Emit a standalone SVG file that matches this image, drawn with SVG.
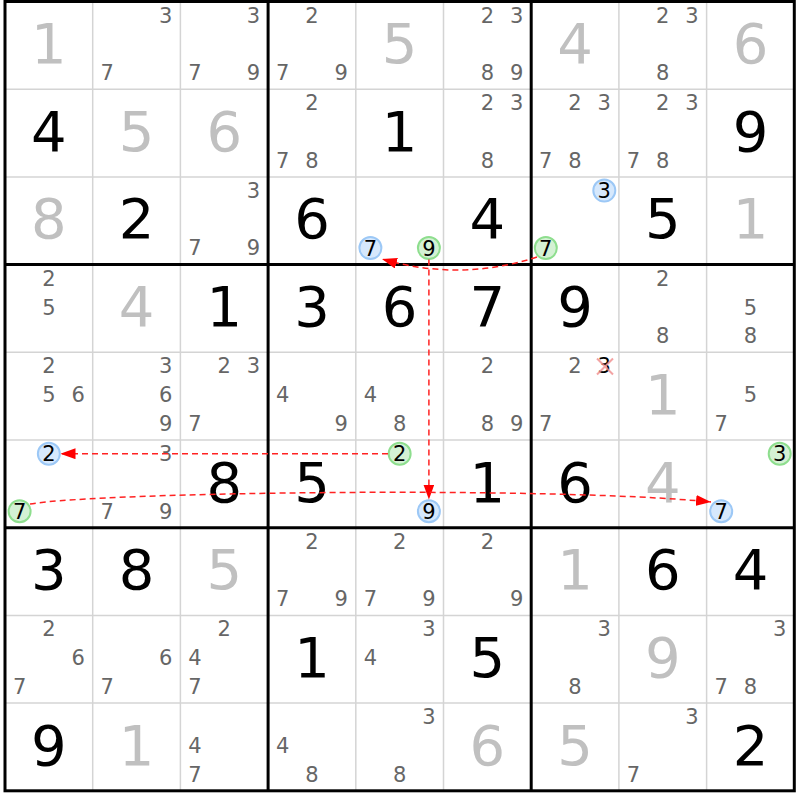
<svg xmlns="http://www.w3.org/2000/svg" width="800" height="800" viewBox="0 0 800 800">
<style>
text{font-family:"DejaVu Sans",Verdana,sans-serif;text-anchor:middle}
.b{font-size:56px;fill:#000}
.s{font-size:56px;fill:#c0c0c0}
.c{font-size:21px;fill:#666}
.k{font-size:21px;fill:#000}
.thin{stroke:#d4d4d4;stroke-width:1.5}
.thick{stroke:#000;stroke-width:3}
.cb{fill:#d6e8fc;stroke:#9cc8f6;stroke-width:2}
.cg{fill:#d4f1d4;stroke:#8ede8e;stroke-width:2}
.ar{fill:none;stroke:#f22;stroke-width:1.5;stroke-dasharray:6,4;marker-end:url(#ah)}
</style>
<defs>
<marker id="ah" markerUnits="userSpaceOnUse" markerWidth="15" markerHeight="11" refX="15" refY="5.5" orient="auto"><path d="M0,0 L15,5.5 L0,11 z" fill="#f00"/></marker>
</defs>
<rect width="800" height="800" fill="#fff"/>
<g id="grid">
<g class="thin">
<line x1="92.7" y1="1.5" x2="92.7" y2="790.8"/><line x1="180.4" y1="1.5" x2="180.4" y2="790.8"/>
<line x1="355.8" y1="1.5" x2="355.8" y2="790.8"/><line x1="443.5" y1="1.5" x2="443.5" y2="790.8"/>
<line x1="618.9" y1="1.5" x2="618.9" y2="790.8"/><line x1="706.6" y1="1.5" x2="706.6" y2="790.8"/>
<line x1="5" y1="89.2" x2="794.3" y2="89.2"/><line x1="5" y1="176.9" x2="794.3" y2="176.9"/>
<line x1="5" y1="352.3" x2="794.3" y2="352.3"/><line x1="5" y1="440" x2="794.3" y2="440"/>
<line x1="5" y1="615.4" x2="794.3" y2="615.4"/><line x1="5" y1="703.1" x2="794.3" y2="703.1"/>
</g>
<g class="thick">
<line x1="268.1" y1="1.5" x2="268.1" y2="790.8"/><line x1="531.2" y1="1.5" x2="531.2" y2="790.8"/>
<line x1="5" y1="264.6" x2="794.3" y2="264.6"/><line x1="5" y1="527.7" x2="794.3" y2="527.7"/>
<rect x="5" y="1.5" width="789.3" height="789.3" fill="none"/>
</g>
</g>

<!-- Row 0 -->
<g id="r0c0"><text class="s" x="48.85" y="63">1</text></g>
<g id="r0c1"><text class="c" x="165.8" y="22.5">3</text><text class="c" x="107.3" y="80">7</text></g>
<g id="r0c2"><text class="c" x="253.5" y="22.5">3</text><text class="c" x="195" y="80">7</text><text class="c" x="253.5" y="80">9</text></g>
<g id="r0c3"><text class="c" x="311.95" y="22.5">2</text><text class="c" x="282.7" y="80">7</text><text class="c" x="341.2" y="80">9</text></g>
<g id="r0c4"><text class="s" x="399.65" y="63">5</text></g>
<g id="r0c5"><text class="c" x="487.35" y="22.5">2</text><text class="c" x="516.6" y="22.5">3</text><text class="c" x="487.35" y="80">8</text><text class="c" x="516.6" y="80">9</text></g>
<g id="r0c6"><text class="s" x="575.05" y="63">4</text></g>
<g id="r0c7"><text class="c" x="662.75" y="22.5">2</text><text class="c" x="692" y="22.5">3</text><text class="c" x="662.75" y="80">8</text></g>
<g id="r0c8"><text class="s" x="750.45" y="63">6</text></g>

<!-- Row 1 -->
<g id="r1c0"><text class="b" x="48.85" y="150.7">4</text></g>
<g id="r1c1"><text class="s" x="136.55" y="150.7">5</text></g>
<g id="r1c2"><text class="s" x="224.25" y="150.7">6</text></g>
<g id="r1c3"><text class="c" x="311.95" y="110.2">2</text><text class="c" x="282.7" y="167.7">7</text><text class="c" x="311.95" y="167.7">8</text></g>
<g id="r1c4"><text class="b" x="399.65" y="150.7">1</text></g>
<g id="r1c5"><text class="c" x="487.35" y="110.2">2</text><text class="c" x="516.6" y="110.2">3</text><text class="c" x="487.35" y="167.7">8</text></g>
<g id="r1c6"><text class="c" x="575.05" y="110.2">2</text><text class="c" x="604.3" y="110.2">3</text><text class="c" x="545.8" y="167.7">7</text><text class="c" x="575.05" y="167.7">8</text></g>
<g id="r1c7"><text class="c" x="662.75" y="110.2">2</text><text class="c" x="692" y="110.2">3</text><text class="c" x="633.5" y="167.7">7</text><text class="c" x="662.75" y="167.7">8</text></g>
<g id="r1c8"><text class="b" x="750.45" y="150.7">9</text></g>

<!-- Row 2 -->
<g id="r2c0"><text class="s" x="48.85" y="238.4">8</text></g>
<g id="r2c1"><text class="b" x="136.55" y="238.4">2</text></g>
<g id="r2c2"><text class="c" x="253.5" y="197.9">3</text><text class="c" x="195" y="255.4">7</text><text class="c" x="253.5" y="255.4">9</text></g>
<g id="r2c3"><text class="b" x="311.95" y="238.4">6</text></g>
<g id="r2c4"><circle class="cb" cx="370.4" cy="248.1" r="11"/><text class="k" x="370.4" y="255.6">7</text><circle class="cg" cx="428.9" cy="248.1" r="11"/><text class="k" x="428.9" y="255.6">9</text></g>
<g id="r2c5"><text class="b" x="487.35" y="238.4">4</text></g>
<g id="r2c6"><circle class="cb" cx="604.3" cy="190.6" r="11"/><text class="k" x="604.3" y="198.1">3</text><circle class="cg" cx="545.8" cy="248.1" r="11"/><text class="k" x="545.8" y="255.6">7</text></g>
<g id="r2c7"><text class="b" x="662.75" y="238.4">5</text></g>
<g id="r2c8"><text class="s" x="750.45" y="238.4">1</text></g>

<!-- Row 3 -->
<g id="r3c0"><text class="c" x="48.85" y="285.6">2</text><text class="c" x="48.85" y="314.6">5</text></g>
<g id="r3c1"><text class="s" x="136.55" y="326.1">4</text></g>
<g id="r3c2"><text class="b" x="224.25" y="326.1">1</text></g>
<g id="r3c3"><text class="b" x="311.95" y="326.1">3</text></g>
<g id="r3c4"><text class="b" x="399.65" y="326.1">6</text></g>
<g id="r3c5"><text class="b" x="487.35" y="326.1">7</text></g>
<g id="r3c6"><text class="b" x="575.05" y="326.1">9</text></g>
<g id="r3c7"><text class="c" x="662.75" y="285.6">2</text><text class="c" x="662.75" y="343.1">8</text></g>
<g id="r3c8"><text class="c" x="750.45" y="314.6">5</text><text class="c" x="750.45" y="343.1">8</text></g>

<!-- Row 4 -->
<g id="r4c0"><text class="c" x="48.85" y="373.3">2</text><text class="c" x="48.85" y="402.3">5</text><text class="c" x="78.1" y="402.3">6</text></g>
<g id="r4c1"><text class="c" x="165.8" y="373.3">3</text><text class="c" x="165.8" y="402.3">6</text><text class="c" x="165.8" y="430.8">9</text></g>
<g id="r4c2"><text class="c" x="224.25" y="373.3">2</text><text class="c" x="253.5" y="373.3">3</text><text class="c" x="195" y="430.8">7</text></g>
<g id="r4c3"><text class="c" x="282.7" y="402.3">4</text><text class="c" x="341.2" y="430.8">9</text></g>
<g id="r4c4"><text class="c" x="370.4" y="402.3">4</text><text class="c" x="399.65" y="430.8">8</text></g>
<g id="r4c5"><text class="c" x="487.35" y="373.3">2</text><text class="c" x="487.35" y="430.8">8</text><text class="c" x="516.6" y="430.8">9</text></g>
<g id="r4c6"><text class="c" x="575.05" y="373.3">2</text><text class="k" x="604.3" y="373.3">3</text><path d="M597,358.5 L613,374.5 M613,358.5 L597,374.5" stroke="#f08c8c" stroke-opacity="0.8" stroke-width="2" fill="none"/><text class="c" x="545.8" y="430.8">7</text></g>
<g id="r4c7"><text class="s" x="662.75" y="413.8">1</text></g>
<g id="r4c8"><text class="c" x="750.45" y="402.3">5</text><text class="c" x="721.2" y="430.8">7</text></g>

<!-- Row 5 -->
<g id="r5c0"><circle class="cb" cx="48.85" cy="453.7" r="11"/><text class="k" x="48.85" y="461.2">2</text><circle class="cg" cx="19.6" cy="511.2" r="11"/><text class="k" x="19.6" y="518.7">7</text></g>
<g id="r5c1"><text class="c" x="165.8" y="461">3</text><text class="c" x="107.3" y="518.5">7</text><text class="c" x="165.8" y="518.5">9</text></g>
<g id="r5c2"><text class="b" x="224.25" y="501.5">8</text></g>
<g id="r5c3"><text class="b" x="311.95" y="501.5">5</text></g>
<g id="r5c4"><circle class="cg" cx="399.65" cy="453.7" r="11"/><text class="k" x="399.65" y="461.2">2</text><circle class="cb" cx="428.9" cy="511.2" r="11"/><text class="k" x="428.9" y="518.7">9</text></g>
<g id="r5c5"><text class="b" x="487.35" y="501.5">1</text></g>
<g id="r5c6"><text class="b" x="575.05" y="501.5">6</text></g>
<g id="r5c7"><text class="s" x="662.75" y="501.5">4</text></g>
<g id="r5c8"><circle class="cg" cx="779.7" cy="453.7" r="11"/><text class="k" x="779.7" y="461.2">3</text><circle class="cb" cx="721.2" cy="511.2" r="11"/><text class="k" x="721.2" y="518.7">7</text></g>

<!-- Row 6 -->
<g id="r6c0"><text class="b" x="48.85" y="589.2">3</text></g>
<g id="r6c1"><text class="b" x="136.55" y="589.2">8</text></g>
<g id="r6c2"><text class="s" x="224.25" y="589.2">5</text></g>
<g id="r6c3"><text class="c" x="311.95" y="548.7">2</text><text class="c" x="282.7" y="606.2">7</text><text class="c" x="341.2" y="606.2">9</text></g>
<g id="r6c4"><text class="c" x="399.65" y="548.7">2</text><text class="c" x="370.4" y="606.2">7</text><text class="c" x="428.9" y="606.2">9</text></g>
<g id="r6c5"><text class="c" x="487.35" y="548.7">2</text><text class="c" x="516.6" y="606.2">9</text></g>
<g id="r6c6"><text class="s" x="575.05" y="589.2">1</text></g>
<g id="r6c7"><text class="b" x="662.75" y="589.2">6</text></g>
<g id="r6c8"><text class="b" x="750.45" y="589.2">4</text></g>

<!-- Row 7 -->
<g id="r7c0"><text class="c" x="48.85" y="636.4">2</text><text class="c" x="78.1" y="665.4">6</text><text class="c" x="19.6" y="693.9">7</text></g>
<g id="r7c1"><text class="c" x="165.8" y="665.4">6</text><text class="c" x="107.3" y="693.9">7</text></g>
<g id="r7c2"><text class="c" x="224.25" y="636.4">2</text><text class="c" x="195" y="665.4">4</text><text class="c" x="195" y="693.9">7</text></g>
<g id="r7c3"><text class="b" x="311.95" y="676.9">1</text></g>
<g id="r7c4"><text class="c" x="428.9" y="636.4">3</text><text class="c" x="370.4" y="665.4">4</text></g>
<g id="r7c5"><text class="b" x="487.35" y="676.9">5</text></g>
<g id="r7c6"><text class="c" x="604.3" y="636.4">3</text><text class="c" x="575.05" y="693.9">8</text></g>
<g id="r7c7"><text class="s" x="662.75" y="676.9">9</text></g>
<g id="r7c8"><text class="c" x="779.7" y="636.4">3</text><text class="c" x="721.2" y="693.9">7</text><text class="c" x="750.45" y="693.9">8</text></g>

<!-- Row 8 -->
<g id="r8c0"><text class="b" x="48.85" y="764.6">9</text></g>
<g id="r8c1"><text class="s" x="136.55" y="764.6">1</text></g>
<g id="r8c2"><text class="c" x="195" y="753.1">4</text><text class="c" x="195" y="781.6">7</text></g>
<g id="r8c3"><text class="c" x="282.7" y="753.1">4</text><text class="c" x="311.95" y="781.6">8</text></g>
<g id="r8c4"><text class="c" x="428.9" y="724.1">3</text><text class="c" x="399.65" y="781.6">8</text></g>
<g id="r8c5"><text class="s" x="487.35" y="764.6">6</text></g>
<g id="r8c6"><text class="s" x="575.05" y="764.6">5</text></g>
<g id="r8c7"><text class="c" x="692" y="724.1">3</text><text class="c" x="633.5" y="781.6">7</text></g>
<g id="r8c8"><text class="b" x="750.45" y="764.6">2</text></g>

<g id="connectors">
<path class="ar" d="M537,257 Q460,282 382,259"/>
<path class="ar" d="M428.9,259.5 L428.9,499.5"/>
<path class="ar" d="M388,453.7 L60.5,453.7"/>
<path class="ar" d="M30,504 C100,492 550,486 711,502"/>
</g>
</svg>
